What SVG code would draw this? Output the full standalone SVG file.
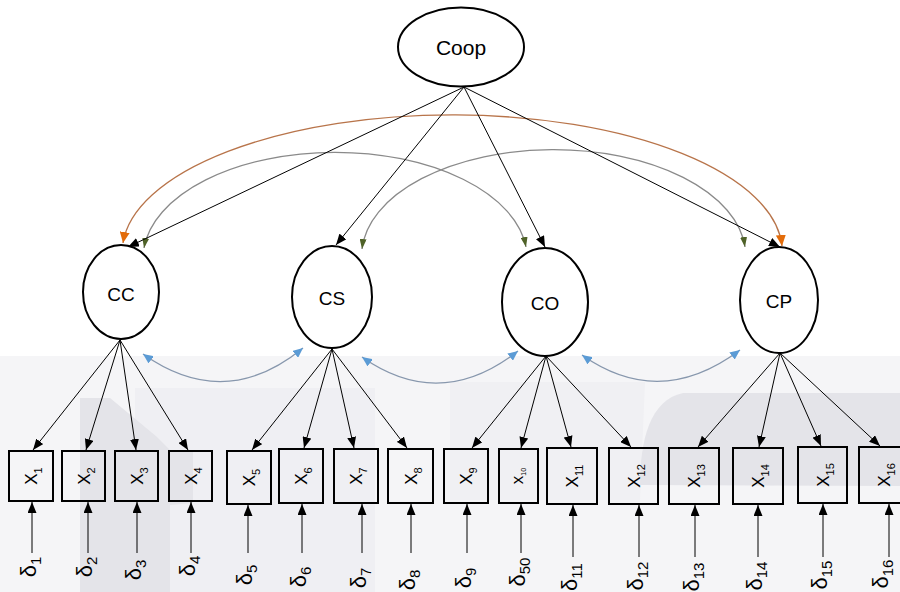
<svg xmlns="http://www.w3.org/2000/svg" width="900" height="592" viewBox="0 0 900 592">
<style>
.lat{fill:#fff;stroke:#000;stroke-width:2}
.box{fill:none;stroke:#000;stroke-width:2}
.lbl{font-family:"Liberation Sans",Arial,sans-serif;fill:#000;text-anchor:middle}
.ind{font-family:"Liberation Sans",Arial,sans-serif;font-size:17px;fill:#000;text-anchor:middle}
.del{font-family:"Liberation Sans",Arial,sans-serif;font-size:22px;fill:#000;text-anchor:middle}
.ld{stroke:#000;stroke-width:1;fill:none;marker-end:url(#aBlack)}
.cov{fill:none;stroke:#8797ad;stroke-width:1.3;marker-start:url(#aBlue);marker-end:url(#aBlue)}
.covg{fill:none;stroke:#8a8a8a;stroke-width:1.3;marker-start:url(#aGreen);marker-end:url(#aGreen)}
.covo{fill:none;stroke:#b8744a;stroke-width:1.3;marker-start:url(#aOrange);marker-end:url(#aOrange)}
</style>
<defs>
<marker id="aBlack" viewBox="0 0 10 10" refX="10" refY="5" markerWidth="11" markerHeight="9" markerUnits="userSpaceOnUse" orient="auto" preserveAspectRatio="none"><path d="M0,0 L10,5 L0,10 z" fill="#000"/></marker>
<marker id="aBlue" viewBox="0 0 10 10" refX="10" refY="5" markerWidth="10" markerHeight="9" markerUnits="userSpaceOnUse" orient="auto-start-reverse" preserveAspectRatio="none"><path d="M0,0 L10,5 L0,10 z" fill="#5b9bd5"/></marker>
<marker id="aGreen" viewBox="0 0 10 10" refX="10" refY="5" markerWidth="10" markerHeight="7" markerUnits="userSpaceOnUse" orient="auto-start-reverse" preserveAspectRatio="none"><path d="M0,0 L10,5 L0,10 z" fill="#4f6228"/></marker>
<marker id="aOrange" viewBox="0 0 10 10" refX="10" refY="5" markerWidth="11" markerHeight="10" markerUnits="userSpaceOnUse" orient="auto-start-reverse" preserveAspectRatio="none"><path d="M0,0 L10,5 L0,10 z" fill="#e36c0a"/></marker>
</defs>
<rect width="900" height="592" fill="#fff"/>
<g id="background">
<rect x="0" y="356" width="900" height="236" fill="#f5f5f7"/>
<path d="M135,388 L375,388 L375,592 L135,592 Z" fill="#efeff3"/>
<path d="M80,398 L110,398 L157,437 L170,450 L193,452 L193,503 L170,505 L170,592 L80,592 Z" fill="#e4e4e9"/>
<path d="M450,382 L645,382 L640,500 L450,500 Z" fill="#f0f0f3"/>
<path d="M640,485 C640,440 650,400 683,393 L900,393 L900,486 Z" fill="#e4e4e9"/>
</g>
<g id="connectors">
<path class="covo" d="M123,243 A330,137 0 0 1 782,246"/>
<path class="covg" d="M144,248 A192,106 0 0 1 526,247"/>
<path class="covg" d="M362,249 A192,106 0 0 1 745,247"/>
<line class="ld" x1="464" y1="87" x2="128" y2="247"/>
<line class="ld" x1="464" y1="87" x2="336" y2="245"/>
<line class="ld" x1="464" y1="87" x2="545" y2="247"/>
<line class="ld" x1="464" y1="87" x2="780" y2="247"/>
<path class="cov" d="M143,354 Q225,412 303,348"/>
<path class="cov" d="M362,357 Q440,412 518,351"/>
<path class="cov" d="M582,355 Q660,410 740,350"/>
<line class="ld" x1="120" y1="340" x2="33" y2="450"/>
<line class="ld" x1="120" y1="340" x2="86" y2="450"/>
<line class="ld" x1="120" y1="340" x2="136" y2="450"/>
<line class="ld" x1="120" y1="340" x2="188" y2="450"/>
<line class="ld" x1="332" y1="349" x2="252" y2="450"/>
<line class="ld" x1="332" y1="349" x2="304" y2="448"/>
<line class="ld" x1="332" y1="349" x2="354" y2="448"/>
<line class="ld" x1="332" y1="349" x2="407" y2="448"/>
<line class="ld" x1="546" y1="356" x2="472" y2="448"/>
<line class="ld" x1="546" y1="356" x2="521" y2="448"/>
<line class="ld" x1="546" y1="356" x2="571" y2="447"/>
<line class="ld" x1="546" y1="356" x2="631" y2="447"/>
<line class="ld" x1="780" y1="353" x2="698" y2="447"/>
<line class="ld" x1="780" y1="353" x2="759" y2="447"/>
<line class="ld" x1="780" y1="353" x2="821" y2="446"/>
<line class="ld" x1="780" y1="353" x2="880" y2="446"/>
<line class="ld" x1="32" y1="553" x2="32" y2="502"/>
<line class="ld" x1="88" y1="553" x2="88" y2="502"/>
<line class="ld" x1="137" y1="553" x2="137" y2="502"/>
<line class="ld" x1="191" y1="553" x2="191" y2="502"/>
<line class="ld" x1="248" y1="553" x2="248" y2="505"/>
<line class="ld" x1="302" y1="553" x2="302" y2="504"/>
<line class="ld" x1="362" y1="553" x2="362" y2="504"/>
<line class="ld" x1="411" y1="553" x2="411" y2="504"/>
<line class="ld" x1="467" y1="553" x2="467" y2="504"/>
<line class="ld" x1="521" y1="553" x2="521" y2="504"/>
<line class="ld" x1="573" y1="557" x2="573" y2="505"/>
<line class="ld" x1="639" y1="557" x2="639" y2="505"/>
<line class="ld" x1="695" y1="557" x2="695" y2="505"/>
<line class="ld" x1="758" y1="557" x2="758" y2="505"/>
<line class="ld" x1="823" y1="557" x2="823" y2="504"/>
<line class="ld" x1="889" y1="557" x2="889" y2="504"/>
</g>
<g id="Coop"><ellipse class="lat" cx="461" cy="47" rx="63" ry="39.5"/><text class="lbl" x="461" y="55" font-size="21">Coop</text></g>
<g id="CC"><ellipse class="lat" cx="121" cy="292" rx="38" ry="47"/><text class="lbl" x="121" y="301" font-size="19">CC</text></g>
<g id="CS"><ellipse class="lat" cx="332" cy="297" rx="40" ry="51"/><text class="lbl" x="332" y="305" font-size="19">CS</text></g>
<g id="CO"><ellipse class="lat" cx="545" cy="302" rx="43" ry="54"/><text class="lbl" x="545" y="310" font-size="19">CO</text></g>
<g id="CP"><ellipse class="lat" cx="779" cy="300" rx="39" ry="53"/><text class="lbl" x="779" y="308" font-size="19">CP</text></g>
<g id="X1"><rect class="box" x="9" y="451" width="44" height="50"/><text class="ind" transform="translate(31,476) rotate(-90)" y="6">X<tspan font-size="11" dy="5">1</tspan></text></g>
<g id="X2"><rect class="box" x="62" y="451" width="43" height="50"/><text class="ind" transform="translate(83.5,476) rotate(-90)" y="6">X<tspan font-size="11" dy="5">2</tspan></text></g>
<g id="X3"><rect class="box" x="115" y="451" width="43" height="50"/><text class="ind" transform="translate(136.5,476) rotate(-90)" y="6">X<tspan font-size="11" dy="5">3</tspan></text></g>
<g id="X4"><rect class="box" x="169" y="451" width="43" height="50"/><text class="ind" transform="translate(190.5,476) rotate(-90)" y="6">X<tspan font-size="11" dy="5">4</tspan></text></g>
<g id="X5"><rect class="box" x="227" y="451" width="44" height="53"/><text class="ind" transform="translate(249,477.5) rotate(-90)" y="6">X<tspan font-size="11" dy="5">5</tspan></text></g>
<g id="X6"><rect class="box" x="279" y="449" width="44" height="54"/><text class="ind" transform="translate(301,476) rotate(-90)" y="6">X<tspan font-size="11" dy="5">6</tspan></text></g>
<g id="X7"><rect class="box" x="334" y="449" width="44" height="54"/><text class="ind" transform="translate(356,476) rotate(-90)" y="6">X<tspan font-size="11" dy="5">7</tspan></text></g>
<g id="X8"><rect class="box" x="388" y="449" width="45" height="54"/><text class="ind" transform="translate(410.5,476) rotate(-90)" y="6">X<tspan font-size="11" dy="5">8</tspan></text></g>
<g id="X9"><rect class="box" x="444" y="449" width="44" height="54"/><text class="ind" transform="translate(466,476) rotate(-90)" y="6">X<tspan font-size="11" dy="5">9</tspan></text></g>
<g id="X10"><rect class="box" x="499" y="449" width="39" height="54"/><text class="ind" transform="translate(518.5,476) rotate(-90)" y="4" font-size="13">x<tspan font-size="7" dy="3">10</tspan></text></g>
<g id="X11"><rect class="box" x="547" y="448" width="50" height="56"/><text class="ind" transform="translate(572,476) rotate(-90)" y="6">X<tspan font-size="11" dy="5">11</tspan></text></g>
<g id="X12"><rect class="box" x="609" y="448" width="49" height="56"/><text class="ind" transform="translate(633.5,476) rotate(-90)" y="6">X<tspan font-size="11" dy="5">12</tspan></text></g>
<g id="X13"><rect class="box" x="669" y="448" width="50" height="56"/><text class="ind" transform="translate(694,476) rotate(-90)" y="6">X<tspan font-size="11" dy="5">13</tspan></text></g>
<g id="X14"><rect class="box" x="733" y="448" width="50" height="56"/><text class="ind" transform="translate(758,476) rotate(-90)" y="6">X<tspan font-size="11" dy="5">14</tspan></text></g>
<g id="X15"><rect class="box" x="798" y="447" width="49" height="56"/><text class="ind" transform="translate(822.5,475) rotate(-90)" y="6">X<tspan font-size="11" dy="5">15</tspan></text></g>
<g id="X16"><rect class="box" x="859" y="447" width="50" height="56"/><text class="ind" transform="translate(884,475) rotate(-90)" y="6">X<tspan font-size="11" dy="5">16</tspan></text></g>
<g id="d1"><text class="del" transform="translate(31,567) rotate(-90)" y="5">δ<tspan font-size="15" dy="5">1</tspan></text></g>
<g id="d2"><text class="del" transform="translate(87,567) rotate(-90)" y="5">δ<tspan font-size="15" dy="5">2</tspan></text></g>
<g id="d3"><text class="del" transform="translate(136,570) rotate(-90)" y="5">δ<tspan font-size="15" dy="5">3</tspan></text></g>
<g id="d4"><text class="del" transform="translate(190,566) rotate(-90)" y="5">δ<tspan font-size="15" dy="5">4</tspan></text></g>
<g id="d5"><text class="del" transform="translate(247,575) rotate(-90)" y="5">δ<tspan font-size="15" dy="5">5</tspan></text></g>
<g id="d6"><text class="del" transform="translate(301,577) rotate(-90)" y="5">δ<tspan font-size="15" dy="5">6</tspan></text></g>
<g id="d7"><text class="del" transform="translate(361,578) rotate(-90)" y="5">δ<tspan font-size="15" dy="5">7</tspan></text></g>
<g id="d8"><text class="del" transform="translate(410,580) rotate(-90)" y="5">δ<tspan font-size="15" dy="5">8</tspan></text></g>
<g id="d9"><text class="del" transform="translate(466,578) rotate(-90)" y="5">δ<tspan font-size="15" dy="5">9</tspan></text></g>
<g id="d50"><text class="del" transform="translate(520,572) rotate(-90)" y="5">δ<tspan font-size="15" dy="5">50</tspan></text></g>
<g id="d11"><text class="del" transform="translate(572,577) rotate(-90)" y="5">δ<tspan font-size="15" dy="5">11</tspan></text></g>
<g id="d12"><text class="del" transform="translate(638,576) rotate(-90)" y="5">δ<tspan font-size="15" dy="5">12</tspan></text></g>
<g id="d13"><text class="del" transform="translate(694,577) rotate(-90)" y="5">δ<tspan font-size="15" dy="5">13</tspan></text></g>
<g id="d14"><text class="del" transform="translate(757,576) rotate(-90)" y="5">δ<tspan font-size="15" dy="5">14</tspan></text></g>
<g id="d15"><text class="del" transform="translate(822,575) rotate(-90)" y="5">δ<tspan font-size="15" dy="5">15</tspan></text></g>
<g id="d16"><text class="del" transform="translate(883,574) rotate(-90)" y="5">δ<tspan font-size="15" dy="5">16</tspan></text></g>
</svg>
